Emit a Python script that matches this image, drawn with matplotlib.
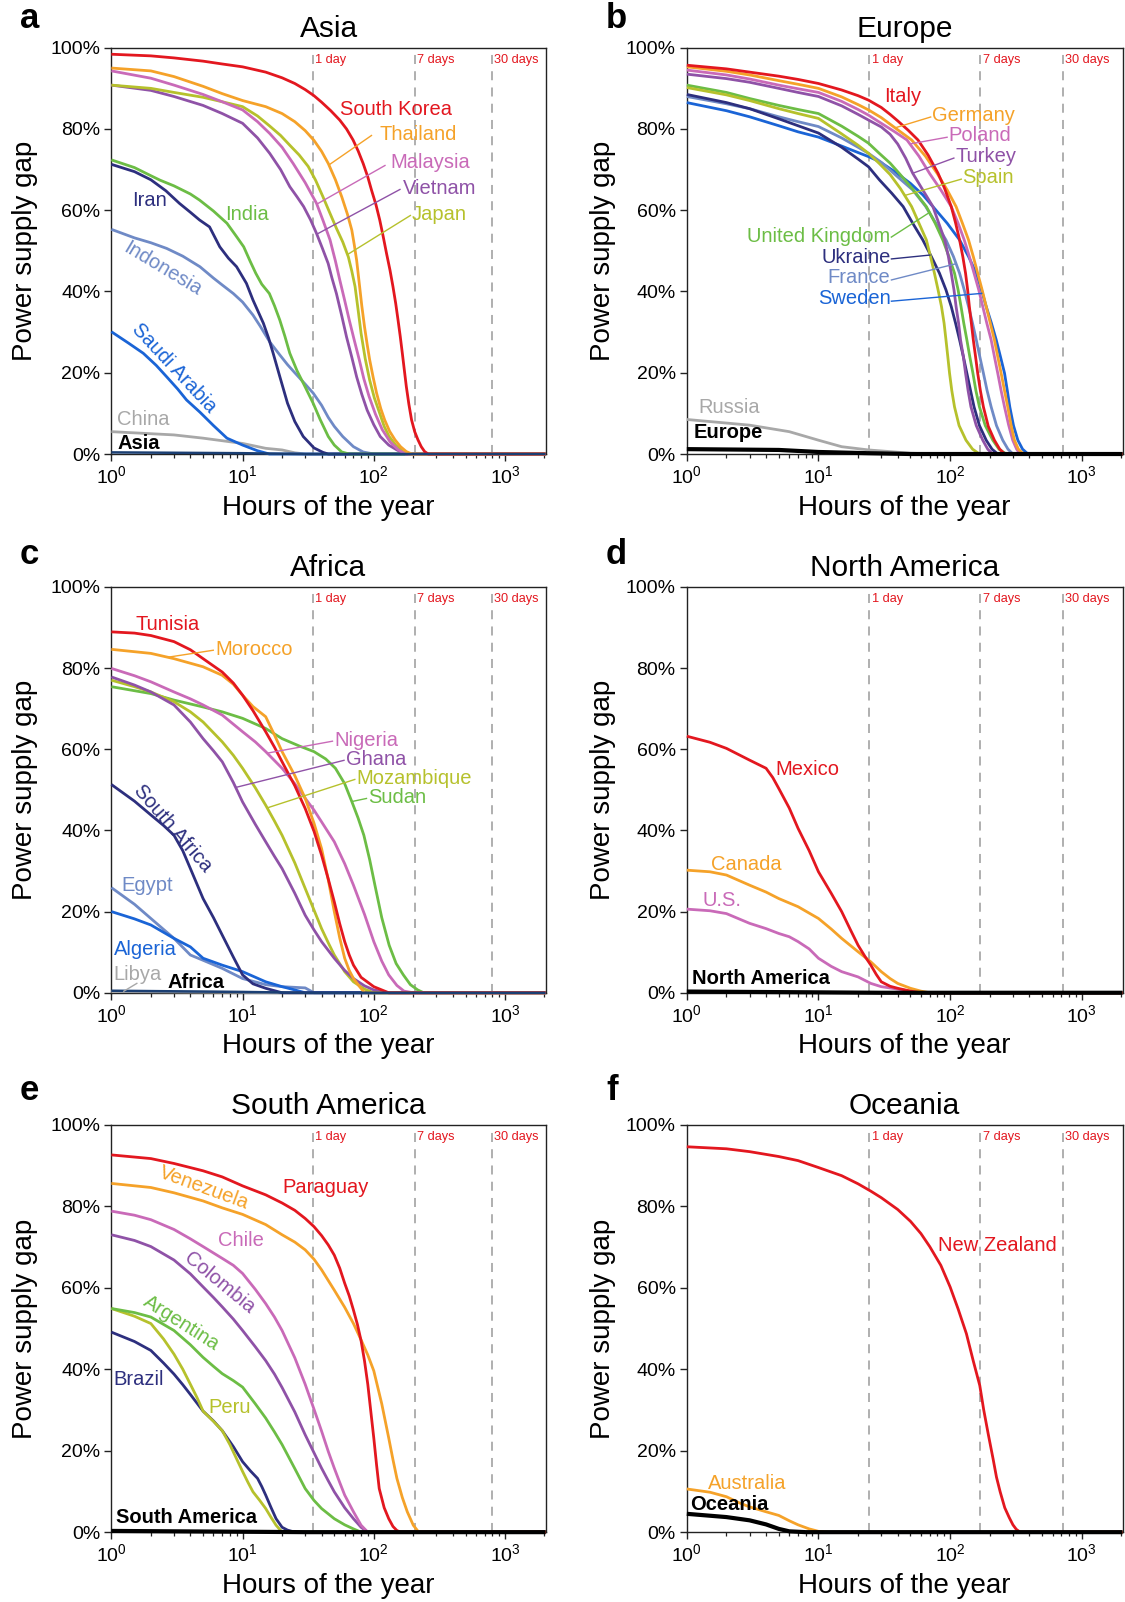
import numpy as np
import matplotlib
matplotlib.use("Agg")
import matplotlib.pyplot as plt
from matplotlib.ticker import FixedLocator, LogLocator, FuncFormatter, NullFormatter
import matplotlib.transforms as mtransforms

plt.rcParams["font.family"] = ["Liberation Sans", "DejaVu Sans"]
plt.rcParams["mathtext.fontset"] = "custom"
plt.rcParams["mathtext.rm"] = "Liberation Sans"
plt.rcParams["mathtext.it"] = "Liberation Sans:italic"
plt.rcParams["mathtext.bf"] = "Liberation Sans:bold"

# ---------------------------------------------------------------- colours
RED = "#e3171f"
ORANGE = "#f5a229"
PINK = "#c96ab8"
PURPLE = "#8f52a7"
OLIVE = "#b6c12c"
GREEN = "#6cbd45"
NAVY = "#2d2f7e"
STEEL = "#6f8ac6"
BLUE = "#1a64d6"
GRAY = "#a8a8a8"
BLACK = "#000000"
DARK_BASE = "#1b3f73"

X_END = 2040  # right end of the hour axis

# reference durations (hours) drawn as dashed lines
marks_left = [34.4, 206, 793]
marks_right = [24.3, 169, 720]
mark_names = ["1 day", "7 days", "30 days"]

# ---------------------------------------------------------------- data
# each series: (hour of the year, power supply gap in %)

# Asia
south_korea = [(1, 98.4), (2, 98), (3, 97.5), (5, 96.7), (7, 96), (10, 95.3), (15, 94), (20, 92.6),
               (25, 91.2), (30, 89.7), (35, 88.2), (40, 86.6), (47, 84.5), (55, 82.2), (62, 80),
               (69.5, 77.3), (76, 74.6), (83, 71.5), (90, 68.2), (96, 65), (104, 61.3), (111, 57.6),
               (118, 53.5), (125, 49.4), (133, 45.2), (140, 41.2), (147, 37), (153, 33), (159, 29),
               (165, 24.8), (171, 20.6), (177, 16.6), (185, 12.3), (194, 8.4), (205, 5.5), (217, 3.5),
               (230, 1.8), (244, 0.6), (260, 0)]
thailand = [(1, 95), (2, 94.3), (3, 92.9), (5, 90.5), (7, 88.7), (10, 87), (15, 85.5), (20, 83.8),
            (25, 81.8), (30, 79.6), (35, 77.2), (40, 74.5), (45, 71.5), (51, 67.5), (57, 63.3), (63, 59),
            (68, 55.1), (71, 51.5), (74, 47.7), (78, 41.2), (81, 36.5), (85, 31.3), (89, 27), (93, 23.2),
            (99, 18.8), (105, 15), (113, 11.2), (121, 8.4), (132, 5.6), (145, 3.5), (160, 1.8), (177, 0.6),
            (195, 0)]
malaysia = [(1, 94.3), (2, 92.5), (3, 90.8), (5, 88.5), (7, 86.7), (10, 84.7), (13, 81.8), (16.1, 78.9),
            (20, 75.5), (24.3, 71.5), (30, 66.8), (36.6, 61.7), (41, 57.5), (46.4, 52.7), (51, 47.5),
            (55, 42.9), (60, 37.8), (65, 33), (71, 28), (77.5, 23.2), (84, 18.5), (92, 14.2), (103, 9.8),
            (116, 6), (133, 3), (154, 1), (175, 0)]
vietnam = [(1, 90.8), (2, 89.5), (3, 88), (5, 85.8), (7, 83.8), (10, 81.4), (13, 77.8), (16.1, 74),
           (19.5, 70), (22.9, 65.8), (26, 63.3), (29.2, 60.9), (33, 57.6), (36.6, 54.3), (40.5, 50.7),
           (44.9, 46.9), (48, 43.3), (51.9, 39.5), (57, 34), (62, 28.8), (68, 23.8), (74, 19), (81, 14.7),
           (89, 10.8), (100, 7.2), (112, 4.3), (130, 2.2), (150, 1), (175, 0)]
japan = [(1, 90.8), (2, 90), (3, 89), (5, 87.8), (7, 86.7), (10, 85.5), (13, 83.2), (16, 80.8),
         (19.5, 78.4), (22.9, 76), (27, 73.6), (31.6, 70.8), (36, 67.4), (41, 63.3), (46, 59.5),
         (52, 55.5), (58, 52.2), (64, 48.5), (68, 45), (72, 41.2), (76, 35.4), (80, 29.7), (86, 23.5),
         (93, 18.2), (101, 13.8), (111, 10), (120, 6.8), (131, 4.3), (147, 2.2), (166, 0.6), (185, 0)]
india = [(1, 72.4), (1.5, 70.5), (2, 68.5), (2.35, 67.4), (3, 66), (4, 64), (4.7, 62.5), (6, 59.8),
         (7.6, 56.8), (9, 53.5), (10.2, 51), (11.4, 47.5), (12.6, 44.5), (14, 41.8), (16, 39.5),
         (17.5, 36.5), (19.2, 33), (21, 29), (22.9, 24.8), (26, 20.5), (30, 16.5), (34.5, 12.5),
         (39, 8.5), (45, 4.3), (50, 2.2), (57, 0.5), (65, 0)]
iran = [(1, 71.3), (1.5, 69.5), (2, 67.5), (2.6, 64.8), (3.3, 61.7), (4, 59.5), (4.7, 57.6), (5.6, 55.9),
        (6.7, 51), (7.8, 48.2), (9, 46.1), (10.7, 42), (12, 37.9), (14.4, 32.2), (15.8, 28.5),
        (17.1, 24.8), (19.2, 19.1), (22, 12.5), (25, 8), (29, 4.3), (35, 1.5), (41, 0.4), (45, 0)]
indonesia = [(1, 55.3), (1.5, 53.2), (2, 52), (2.64, 50.6), (3.5, 48.7), (4.73, 46.1), (6, 43.3),
             (7, 41.6), (8.5, 39.5), (10, 37.4), (12, 34.2), (13.6, 31.5), (16.1, 27.6), (19.2, 24.4),
             (22, 22), (25, 20), (30, 17.2), (34.5, 15), (40, 12), (45, 9), (50, 6.8), (58, 4.3),
             (70, 1.8), (83, 0.5), (100, 0)]
saudi_arabia = [(1, 30.1), (1.35, 27.3), (1.75, 24.8), (2.2, 21.8), (2.64, 19), (3.2, 16), (3.74, 13.3),
                (4.73, 10.3), (6, 7), (7.6, 3.9), (10, 2.2), (13, 0.8), (16, 0)]
china = [(1, 5.5), (3, 4.7), (5, 3.9), (10, 2.6), (15, 1.4), (20, 1), (25, 0.3), (30, 0)]
asia_total = [(1, 0.4), (10, 0.2), (30, 0)]

# Europe
italy = [(1, 95.7), (2, 94.8), (3, 94), (5, 93), (7, 92.2), (10, 91.2), (15, 89.6), (20, 88.2), (24, 87.1),
         (30, 85.3), (35, 83.6), (40, 82), (48, 79.7), (57, 77.3), (68, 73.6), (81, 69.1), (91, 65.3),
         (102, 60.9), (110, 56.9), (118, 52.7), (125, 48.5), (131, 44.5), (136, 40.3), (140, 36.3),
         (145, 32.2), (150, 28.1), (156, 24), (162, 19.9), (170, 15.5), (179, 11.6), (195, 6.8),
         (217, 3.4), (238, 1.2), (260, 0)]
germany = [(1, 95.3), (2, 94.2), (3, 93.3), (5, 91.9), (7, 91), (10, 90), (15, 87.9), (20, 86), (24, 84.7),
           (30, 82.8), (40, 79.8), (51, 77.3), (65, 73.3), (80, 69), (95, 65), (111, 60.9), (124, 56.8),
           (138, 52.7), (150, 48.6), (162, 44.5), (175, 40.4), (188, 36.3), (202, 32.2), (217, 28.1),
           (230, 24), (244, 19.9), (259, 15.6), (274, 11.6), (290, 7.2), (308, 3.4), (330, 1.2), (360, 0)]
poland = [(1, 94.5), (2, 93.3), (3, 92.3), (5, 90.8), (7, 89.9), (10, 89), (15, 86.8), (20, 84.8),
          (24, 83.4), (30, 81.4), (38, 79.3), (47, 77.3), (58, 73.3), (70, 69), (85, 65), (102, 60.9),
          (115, 56.8), (128, 52.7), (140, 48.6), (152, 44.5), (165, 40.4), (177, 36.3), (190, 32.2),
          (205, 28.1), (217, 24), (230, 19.9), (244, 15.6), (259, 11.6), (278, 7.2), (299, 3.4),
          (320, 1.2), (340, 0)]
turkey = [(1, 93.5), (2, 92.4), (3, 91.5), (5, 90), (7, 89), (10, 88), (15, 85.7), (20, 83.6), (24, 82.2),
          (30, 80.5), (35, 78.7), (40, 76.3), (46, 72.8), (52, 69.1), (62, 65), (74, 60.9), (82, 56.8),
          (91, 52.7), (97, 48.6), (102, 44.5), (107, 40.4), (111, 36.3), (116, 32.2), (120, 28.1),
          (126, 24), (131, 19.9), (137, 15.6), (144, 11.6), (158, 7), (177, 3.4), (193, 1.2), (210, 0)]
united_kingdom = [(1, 90.8), (2, 89), (3, 87.5), (5, 85.8), (7, 84.8), (10, 83.8), (15, 80.7), (20, 78.2),
                  (24, 76.5), (29, 74), (35, 71.6), (41, 69.1), (52, 65.2), (66, 60.9), (77, 56.8),
                  (88, 52.7), (98, 48.6), (108, 44.5), (115, 40.4), (121, 36.3), (127, 32.2), (134, 28.1),
                  (141, 24), (149, 19.9), (157, 15.6), (167, 11.6), (185, 7), (211, 3.4), (235, 1.2),
                  (266, 0)]
spain = [(1, 90.2), (2, 88.4), (3, 87), (5, 85), (7, 83.8), (10, 82.6), (15, 78.8), (20, 76), (24, 74),
         (29, 71.5), (35, 68.8), (42, 65.3), (51, 60.9), (58, 56.8), (66, 52.7), (71, 48.6), (76, 44.5),
         (81, 40.4), (86, 36.3), (90, 32.2), (93, 28.1), (96, 24), (99, 19.9), (103, 15.6), (108, 11.6),
         (117, 7), (132, 3.4), (148, 1.2), (167, 0)]
ukraine = [(1, 88.5), (2, 86.5), (3, 85), (5, 82.5), (7, 80.8), (10, 79), (15, 75.5), (20, 72.6),
           (24, 70.7), (29, 67.5), (36, 64.2), (44, 60.9), (52, 56.8), (62, 52.7), (72, 48.6), (83, 44.5),
           (93, 40.4), (102, 36.3), (110, 32.2), (118, 28.1), (126, 24), (134, 19.9), (143, 15.6),
           (152, 11.6), (167, 7), (188, 3.4), (208, 1.2), (230, 0)]
france = [(1, 88), (2, 86.2), (3, 85), (5, 83), (7, 81.8), (10, 80.6), (15, 77.8), (20, 75.5), (24, 74),
          (30, 71.8), (40, 68.2), (52, 65), (65, 61), (78, 56.8), (93, 52.7), (106, 48.6), (118, 44.5),
          (128, 40.4), (138, 36.3), (148, 32.2), (158, 28.1), (168, 24), (179, 19.9), (191, 15.6),
          (205, 11.6), (225, 7), (251, 3.4), (275, 1.2), (300, 0)]
sweden = [(1, 86.5), (2, 84.5), (3, 83), (5, 80.8), (7, 79.3), (10, 78), (15, 75.8), (20, 74.2),
          (24, 73.2), (29, 72), (38, 69.5), (50, 66.6), (62, 63.8), (74, 60.9), (95, 56.8), (118, 52.7),
          (138, 48.6), (158, 44.5), (173, 40.4), (188, 36.3), (206, 32.2), (224, 28.1), (241, 24),
          (259, 19.9), (272, 15.6), (284, 11.6), (303, 7), (327, 3.4), (355, 1.2), (390, 0)]
russia = [(1, 8.5), (3, 7.1), (6, 5.5), (10, 3.4), (15, 1.8), (24, 1), (50, 0.2), (80, 0)]
europe_total = [(1, 1.2), (5, 1), (10, 0.5), (24, 0.2), (50, 0)]

# Africa
tunisia = [(1, 88.9), (1.5, 88.6), (2, 88), (3, 86.5), (4, 84.5), (5, 82.3), (7, 79), (8.5, 76.3),
           (10, 73.3), (12, 69.5), (15, 64.3), (17.5, 60.5), (20, 56.9), (25, 51), (30, 45.4), (35, 39.8),
           (40, 33.9), (45, 28), (50, 22.4), (55, 17), (60, 12.6), (65, 9.3), (70, 6.8), (80, 3.8),
           (100, 1.5), (130, 0)]
morocco = [(1, 84.6), (2, 83.6), (3, 82.3), (5, 80.3), (7, 78.2), (8.5, 76), (10, 73.3), (12, 70.5),
           (15, 68), (17.5, 63.5), (20, 59.4), (25, 53.5), (30, 47.9), (35, 41.8), (40, 35.5), (45, 27.8),
           (50, 20), (55, 13.5), (60, 8.5), (65, 5.5), (70, 3.5), (78, 1.5), (85, 0)]
nigeria = [(1, 79.9), (1.5, 78.1), (2, 76.6), (3, 74.1), (4, 72.4), (5, 70.9), (7, 68.4), (10, 64.3),
           (12.5, 61.8), (15, 59.4), (20, 55.3), (25, 51.5), (30, 47.9), (35, 45), (40, 42.1), (50, 37.2),
           (60, 31.8), (70, 26.5), (85, 19.3), (100, 12.6), (115, 7.8), (130, 4.4), (150, 1.8),
           (170, 0.4), (200, 0)]
ghana = [(1, 77.8), (1.5, 75.8), (2, 74.1), (3, 70.9), (4, 66.7), (5, 62.6), (6, 59.6), (7, 56.9),
         (8.5, 51.8), (10, 47), (12.5, 41.5), (15, 37.2), (17.5, 33.6), (20, 30.6), (25, 24.5), (30, 19.1),
         (35, 15.5), (40, 12.6), (50, 8.5), (60, 5.5), (70, 3.5), (85, 1.7), (100, 0.7), (130, 0)]
mozambique = [(1, 77), (1.5, 75.4), (2, 74.1), (3, 71.7), (4, 69.2), (5, 66.7), (7, 61.8), (8.5, 58.5),
              (10, 55.3), (12.5, 50.5), (15, 46.2), (17.5, 42.3), (20, 38.8), (25, 32), (30, 25.7),
              (35, 20.4), (40, 15.8), (45, 12.3), (50, 9.3), (60, 5.2), (70, 2.7), (85, 0.9), (100, 0)]
sudan = [(1, 75.4), (2, 73.7), (3, 72.1), (5, 70.4), (7, 69.2), (10, 67.6), (15, 65.1), (20, 62.6),
         (27, 60.8), (35, 59.4), (43, 57.6), (51, 55.3), (60, 51.5), (68, 47.1), (76, 43), (84, 38.8),
         (93, 32.8), (102, 26.5), (115, 18.5), (131, 11.7), (148, 7.2), (168, 4.4), (190, 2), (216, 0.7),
         (240, 0)]
south_africa = [(1, 51.3), (1.5, 47.2), (2, 43.8), (2.5, 41.2), (3, 38.8), (3.5, 35), (4, 30.6),
                (5, 23.2), (6, 18.5), (7, 14.2), (8.5, 8.8), (10, 4.4), (12, 2.2), (15, 1.1), (20, 0)]
egypt = [(1, 25.9), (1.5, 21.8), (2, 18.3), (2.5, 15.6), (3, 13.4), (4, 9.3), (5, 8), (7, 6), (10, 3.5),
         (15, 2), (20, 1.5), (30, 1.2), (35, 0)]
algeria = [(1, 20), (1.5, 18.2), (2, 16.7), (3, 13.4), (4, 11.3), (5, 8.5), (7, 6.8), (10, 5.2), (15, 2.7),
           (20, 1.5), (25, 0.7), (30, 0)]
libya = [(1, 0.3), (10, 0.1), (20, 0)]
africa_total = [(1, 0.5), (10, 0.2), (30, 0)]

# North America
mexico = [(1, 63.2), (1.5, 61.7), (2, 60.2), (3, 57.3), (4, 55.3), (4.5, 53), (5, 50.3), (6, 45.5),
          (7, 40.5), (8.5, 35), (10, 29.8), (12.5, 24.5), (15, 20), (17.5, 15.5), (20, 11.7), (22.5, 9),
          (25, 6.8), (27.5, 4.5), (30, 2.7), (35, 1.6), (40, 1.1), (50, 0.4), (60, 0)]
canada = [(1, 30.2), (1.5, 29.8), (2, 29), (3, 26.5), (4, 24.8), (5, 23.2), (7, 21.2), (10, 18.3),
          (12.5, 15.7), (15, 13.4), (20, 10.1), (25, 7.6), (30, 5.2), (35, 3.5), (40, 2.3), (50, 1.1),
          (60, 0.4), (70, 0)]
united_states = [(1, 20.6), (1.5, 20.2), (2, 19.5), (3, 17.1), (4, 15.8), (5, 14.6), (6, 13.8), (7, 12.6),
                 (8.5, 10.8), (10, 8.5), (12.5, 6.5), (15, 5.2), (20, 3.9), (25, 2.3), (30, 1.5), (40, 0.9),
                 (50, 0.4), (60, 0)]
north_america_total = [(1, 0.3), (10, 0.1), (30, 0)]

# South America
paraguay = [(1, 92.6), (2, 91.7), (3, 90.5), (5, 88.7), (7, 87.2), (10, 85), (15, 82.8), (20, 80.8),
            (25, 79), (30, 77), (35, 75), (40, 72.8), (45, 70.5), (50, 68), (55, 64.8), (60, 61.1),
            (65, 58), (70, 54.5), (75, 51), (80, 47), (85, 42), (90, 36.3), (95, 29.5), (100, 23.1),
            (105, 16.5), (110, 10.7), (120, 6), (130, 3.3), (140, 1.4), (150, 0.4), (160, 0)]
venezuela = [(1, 85.6), (2, 84.6), (3, 83.3), (5, 81.3), (7, 79.6), (10, 78), (15, 75.5), (20, 73),
             (25, 71.2), (30, 69.3), (35, 67), (40, 64.4), (50, 59.4), (60, 55.2), (70, 51.2), (80, 47.2),
             (90, 43.5), (100, 39.6), (115, 31.5), (130, 23.1), (140, 17.8), (150, 13.2), (165, 8.5),
             (180, 5), (200, 1.7), (220, 0)]
chile = [(1, 78.8), (1.5, 77.8), (2, 76.7), (3, 74.3), (4, 72), (5, 70.1), (7, 67.2), (8.5, 65.5),
         (10, 63.5), (12.5, 59.6), (15, 56.1), (17.5, 52.8), (20, 49.5), (25, 42.8), (30, 36.3), (35, 30.2),
         (40, 24.8), (45, 19.8), (50, 15.7), (55, 12.2), (60, 9.1), (70, 5), (80, 1.7), (90, 0)]
colombia = [(1, 73), (1.5, 71.6), (2, 70.1), (3, 66.8), (4, 63.4), (5, 60.2), (6, 57.6), (7, 55.3),
            (8.5, 52.3), (10, 49.5), (12.5, 45.5), (15, 42.1), (17.5, 38.8), (20, 35.5), (25, 29.5),
            (30, 23.9), (35, 19.5), (40, 15.7), (45, 12.6), (50, 9.9), (60, 6), (70, 3.3), (80, 1.2), (90, 0)]
argentina = [(1, 54.9), (1.5, 53.9), (2, 52.8), (3, 49.5), (4, 46), (5, 42.9), (6, 40.7), (7, 38.9),
             (8.5, 37.2), (10, 35.6), (12.5, 31.5), (15, 28), (17.5, 24.6), (20, 21.5), (25, 15.6),
             (30, 10.7), (35, 7.8), (40, 5.8), (50, 3.3), (60, 1.8), (70, 0.8), (80, 0)]
peru = [(1, 54.9), (1.5, 53), (2, 51.2), (2.5, 47.4), (3, 43.7), (3.5, 40), (4, 36.3), (4.5, 33),
        (5, 29.7), (6, 27.2), (7, 24.9), (8, 21.5), (9, 18), (10, 14.9), (11, 12.2), (12, 9.9), (13.5, 7.8),
        (15, 5.8), (16.5, 3.6), (18, 1.7), (20, 0)]
brazil = [(1, 49.1), (1.5, 46.8), (2, 44.6), (2.5, 41.5), (3, 38.8), (3.5, 36.2), (4, 33.8), (5, 29.7),
          (6, 27.3), (7, 24.9), (8.5, 21), (10, 17.3), (11.5, 15), (13, 13.2), (14, 11.2), (15, 9.1),
          (16.5, 6), (18, 3.3), (20, 1.2), (22, 0.5), (25, 0)]
south_america_total = [(1, 0.3), (10, 0.1), (30, 0)]

# Oceania
new_zealand = [(1, 94.6), (2, 94.1), (3, 93.4), (5, 92.2), (7, 91.2), (10, 89.5), (15, 87.5), (20, 85.5),
               (25, 83.7), (30, 82.1), (40, 79.2), (50, 76.3), (60, 73.3), (70, 70.1), (85, 65.5),
               (100, 60.2), (115, 54.8), (133, 48.7), (150, 42), (168, 36), (180, 30), (195, 24),
               (212, 18), (225, 13.5), (240, 9.9), (260, 6), (281, 3.6), (300, 1.8), (318, 0.7), (340, 0)]
australia = [(1, 10.6), (1.5, 9.8), (2, 8.7), (2.5, 7.2), (3, 6.2), (4, 5), (5, 4.1), (6, 2.8), (7, 1.8),
             (8.5, 0.8), (10, 0.2), (12, 0)]
oceania_total = [(1, 4.5), (2, 3.7), (3, 2.9), (4, 1.9), (5, 0.8), (6, 0.2), (8, 0)]


# ---------------------------------------------------------------- helpers
def curve_xy(pts):
    h = [p[0] for p in pts] + [X_END]
    v = [p[1] for p in pts] + [0.0]
    return h, v


def value_at(pts, hour):
    h = np.log10([p[0] for p in pts])
    v = [p[1] for p in pts]
    return float(np.interp(np.log10(hour), h, v))


def lab(text, x, y, color, ha="left", rot=0, bold=False, leader=None):
    return dict(text=text, x=x, y=y, color=color, ha=ha, rot=rot, bold=bold, leader=leader)


LW = 2.0
FS_LAB = 14.5

panels = [
    dict(letter="a", title="Asia", col=0, row=0, marks=marks_left,
         series=[(china, GRAY), (saudi_arabia, BLUE), (indonesia, STEEL),
                 (iran, NAVY), (india, GREEN), (vietnam, PURPLE), (japan, OLIVE), (malaysia, PINK),
                 (thailand, ORANGE), (south_korea, RED)],
         region=asia_total, region_color=DARK_BASE, region_lw=1.8,
         labels=[lab("South Korea", 55, 84.8, RED),
                 lab("Thailand", 109.6, 78.7, ORANGE, leader=(thailand, 45.5, 97, 78.5)),
                 lab("Malaysia", 134.7, 71.8, PINK, leader=(malaysia, 36.8, 123, 71.1)),
                 lab("Vietnam", 165.6, 65.4, PURPLE, leader=(vietnam, 36.8, 160, 65.2)),
                 lab("Japan", 196, 59, OLIVE, leader=(japan, 63, 192, 58.8)),
                 lab("Iran", 1.44, 62.5, NAVY),
                 lab("India", 7.42, 59, GREEN),
                 lab("Indonesia", 2.44, 45.6, STEEL, ha="center", rot=-31),
                 lab("Saudi Arabia", 3.0, 21.1, BLUE, ha="center", rot=-47),
                 lab("China", 1.105, 8.5, GRAY),
                 lab("Asia", 1.105, 2.5, BLACK, bold=True)]),
    dict(letter="b", title="Europe", col=1, row=0, marks=marks_right,
         series=[(russia, GRAY), (sweden, BLUE), (france, STEEL), (ukraine, NAVY), (united_kingdom, GREEN),
                 (spain, OLIVE), (turkey, PURPLE), (poland, PINK), (germany, ORANGE), (italy, RED)],
         region=europe_total, region_color=BLACK, region_lw=3.0,
         labels=[lab("Italy", 31.7, 87.9, RED),
                 lab("Germany", 72.6, 83.4, ORANGE, leader=(germany, 38.2, 72, 83.0)),
                 lab("Poland", 96.8, 78.3, PINK, leader=(poland, 49.5, 96, 78.0)),
                 lab("Turkey", 109, 73.2, PURPLE, leader=(turkey, 52, 108, 72.9)),
                 lab("Spain", 124, 68, OLIVE, leader=(spain, 45.2, 123, 67.7)),
                 lab("United Kingdom", 35.2, 53.6, GREEN, ha="right", leader=(united_kingdom, 69.7, 35.4, 53.3)),
                 lab("Ukraine", 35.2, 48.4, NAVY, ha="right", leader=(ukraine, 71, 35.4, 48.0)),
                 lab("France", 35.2, 43.5, STEEL, ha="right", leader=(france, 111, 35.4, 42.8)),
                 lab("Sweden", 35.2, 38.3, BLUE, ha="right", leader=(sweden, 176, 35.4, 37.6)),
                 lab("Russia", 1.22, 11.5, GRAY),
                 lab("Europe", 1.12, 5.3, BLACK, bold=True)]),
    dict(letter="c", title="Africa", col=0, row=1, marks=marks_left,
         series=[(libya, GRAY), (egypt, STEEL), (algeria, BLUE), (south_africa, NAVY),
                 (sudan, GREEN), (mozambique, OLIVE), (ghana, PURPLE), (nigeria, PINK), (morocco, ORANGE),
                 (tunisia, RED)],
         region=africa_total, region_color=DARK_BASE, region_lw=1.8,
         labels=[lab("Tunisia", 1.53, 90.6, RED),
                 lab("Morocco", 6.19, 84.6, ORANGE, leader=(morocco, 2.69, 6.05, 84.4)),
                 lab("Nigeria", 50.2, 62.2, PINK, leader=(nigeria, 15.4, 49, 62.0)),
                 lab("Ghana", 61, 57.5, PURPLE, leader=(ghana, 8.86, 60, 57.3)),
                 lab("Mozambique", 73.6, 52.8, OLIVE, leader=(mozambique, 15.4, 72.5, 52.6)),
                 lab("Sudan", 90, 48.1, GREEN, leader=(sudan, 68, 89, 47.9)),
                 lab("South Africa", 2.96, 40.5, NAVY, ha="center", rot=-49),
                 lab("Egypt", 1.19, 26.4, STEEL),
                 lab("Algeria", 1.04, 10.7, BLUE),
                 lab("Libya", 1.04, 4.5, GRAY, leader=(libya, 1.23, 1.58, 2.4)),
                 lab("Africa", 2.69, 2.5, BLACK, bold=True)]),
    dict(letter="d", title="North America", col=1, row=1, marks=marks_right,
         series=[(united_states, PINK), (canada, ORANGE), (mexico, RED)],
         region=north_america_total, region_color=BLACK, region_lw=3.0,
         labels=[lab("Mexico", 4.7, 55, RED),
                 lab("Canada", 1.54, 31.7, ORANGE),
                 lab("U.S.", 1.32, 22.8, PINK),
                 lab("North America", 1.1, 3.5, BLACK, bold=True)]),
    dict(letter="e", title="South America", col=0, row=2, marks=marks_left,
         series=[(brazil, NAVY), (peru, OLIVE), (argentina, GREEN), (colombia, PURPLE), (chile, PINK),
                 (venezuela, ORANGE), (paraguay, RED)],
         region=south_america_total, region_color=BLACK, region_lw=3.0,
         labels=[lab("Paraguay", 20.2, 84.6, RED),
                 lab("Venezuela", 5.1, 84.4, ORANGE, ha="center", rot=-20),
                 lab("Chile", 6.47, 71.5, PINK),
                 lab("Colombia", 6.67, 61.3, PURPLE, ha="center", rot=-39.5),
                 lab("Argentina", 3.44, 51.2, GREEN, ha="center", rot=-32.5),
                 lab("Brazil", 1.04, 37.5, NAVY),
                 lab("Peru", 5.46, 30.5, OLIVE),
                 lab("South America", 1.085, 3.7, BLACK, bold=True)]),
    dict(letter="f", title="Oceania", col=1, row=2, marks=marks_right,
         series=[(australia, ORANGE), (new_zealand, RED)],
         region=oceania_total, region_color=BLACK, region_lw=3.0,
         labels=[lab("New Zealand", 80.3, 70.3, RED),
                 lab("Australia", 1.45, 12, ORANGE),
                 lab("Oceania", 1.06, 6.8, BLACK, bold=True)]),
]

COLS = [(0.0990, 0.3860), (0.6105, 0.3873)]
ROWS = [(0.7166, 0.2536), (0.3803, 0.2534), (0.0436, 0.2543)]
YLABEL_X = [-0.170, -0.162]
LETTER_X = [20 / 1125, 606 / 1125]
LETTER_BASE = [28.3, 564, 1100]

fig = plt.figure(figsize=(11.25, 16.02), dpi=100)
fig.patch.set_facecolor("white")

for p in panels:
    x0, w = COLS[p["col"]]
    y0, h = ROWS[p["row"]]
    ax = fig.add_axes([x0, y0, w, h])
    ax.set_xscale("log")
    ax.set_xlim(1, X_END)
    ax.set_ylim(0, 100)

    # reference durations
    trans = mtransforms.blended_transform_factory(ax.transData, ax.transAxes)
    for m, name in zip(p["marks"], mark_names):
        ax.axvline(m, color="#a9a9a9", lw=1.3, ls=(0, (5, 4)), zorder=1)
        ax.text(m * 1.045, 0.971, name, transform=trans, color=RED, fontsize=9.2,
                ha="left", va="center", zorder=6)

    # country curves
    for pts, color in p["series"]:
        hh, vv = curve_xy(pts)
        ax.plot(hh, vv, color=color, lw=LW, zorder=3, clip_on=False, solid_capstyle="butt",
                solid_joinstyle="round")

    # regional aggregate on top
    hh, vv = curve_xy(p["region"])
    ax.plot(hh, vv, color=p["region_color"], lw=p["region_lw"], zorder=4.5, clip_on=False,
            solid_capstyle="butt")

    # labels and leader lines
    for L in p["labels"]:
        ax.text(L["x"], L["y"], L["text"], color=L["color"], fontsize=FS_LAB,
                fontweight="bold" if L["bold"] else "normal",
                ha=L["ha"], va="center", rotation=L["rot"], rotation_mode="anchor", zorder=7)
        if L["leader"] is not None:
            pts, hour, ex, ey = L["leader"]
            ax.plot([hour, ex], [value_at(pts, hour), ey], color=L["color"], lw=1.0, zorder=5,
                    solid_capstyle="butt")

    # axes styling
    ax.set_title(p["title"], fontsize=21.5, pad=8)
    ax.set_xlabel("Hours of the year", fontsize=20)
    ax.set_ylabel("Power supply gap", fontsize=20)
    ax.xaxis.set_label_coords(0.5, -0.100)
    ax.yaxis.set_label_coords(YLABEL_X[p["col"]], 0.5)
    ax.xaxis.label.set_va("top")

    ax.xaxis.set_major_locator(LogLocator(base=10, numticks=10))
    ax.xaxis.set_minor_locator(LogLocator(base=10, subs=np.arange(2, 10), numticks=40))
    ax.xaxis.set_minor_formatter(NullFormatter())
    ax.yaxis.set_major_locator(FixedLocator([0, 20, 40, 60, 80, 100]))
    ax.yaxis.set_major_formatter(FuncFormatter(lambda v, _: f"{v:.0f}%"))
    ax.tick_params(axis="both", which="major", labelsize=14, length=5, width=1.0, direction="out",
                   color="#222222", pad=3)
    ax.tick_params(axis="x", which="minor", length=3, width=0.9, direction="out", color="#222222")
    for s in ax.spines.values():
        s.set_linewidth(1.0)
        s.set_color("#222222")

    fig.text(LETTER_X[p["col"]], 1 - LETTER_BASE[p["row"]] / 1602, p["letter"], fontsize=25,
             fontweight="bold", ha="left", va="baseline")

fig.savefig("out.png", dpi=100, facecolor="white")
